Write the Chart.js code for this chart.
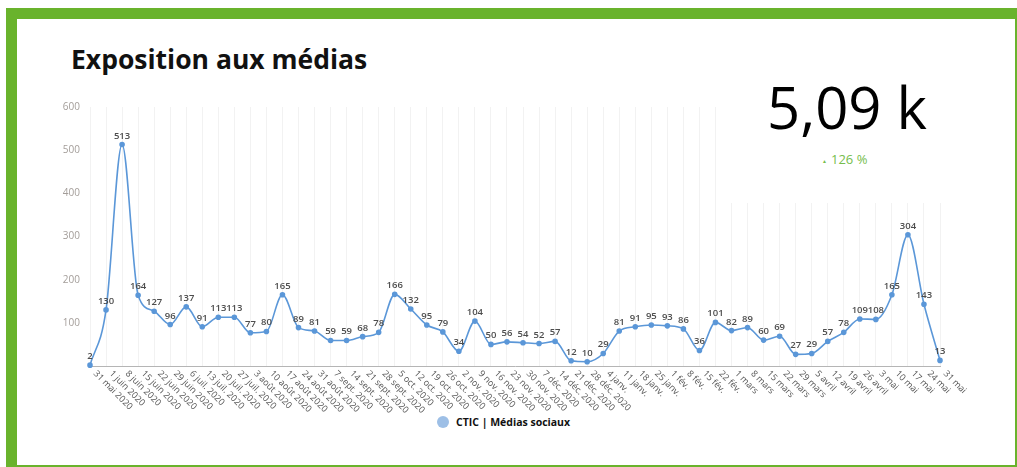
<!DOCTYPE html>
<html>
<head>
<meta charset="utf-8">
<script src="https://cdn.jsdelivr.net/npm/chart.js@4"></script>
<style>
  html, body { margin: 0; padding: 0; background: #fff; }
  body { width: 1017px; height: 467px; position: relative; overflow: hidden; font-family: "Open Sans", sans-serif; }
  #frame { position: absolute; left: 6px; top: 8px; width: 998px; height: 446px; border-left: 11px solid #69b32c; border-top: 11px solid #69b32c; border-right: 2px solid #69b32c; border-bottom: 2px solid #69b32c; }
  #title { position: absolute; left: 71px; top: 41px; font-size: 26.5px; font-weight: 700; color: #111; }
  #card { position: absolute; left: 731px; top: 60px; width: 270px; height: 143px; background: #fff; z-index: 2; }
  #kpi { position: absolute; left: 36px; top: 18px; font-size: 58px; color: #000; line-height: 1; }
  #delta { position: absolute; left: 91px; top: 90px; font-size: 13px; color: #76bd4c; }
  #delta span { font-size: 5px; vertical-align: middle; margin-right: 4px; }
  #legend { position: absolute; left: 437px; top: 415px; font-size: 10.5px; font-weight: 700; color: #111; display: flex; align-items: center; }
  #legend i { display: inline-block; width: 12px; height: 12px; border-radius: 6px; background: #9dbfe6; margin-right: 7px; }
  canvas { position: absolute; left: 0; top: 0; z-index: 1; }
</style>
</head>
<body>
<div id="frame"></div>
<div id="title">Exposition aux médias</div>
<div id="card">
  <div id="kpi">5,09 k</div>
  <div id="delta"><span>▲</span>126 %</div>
</div>
<div id="legend"><i></i>CTIC | Médias sociaux</div>
<canvas id="graphics" width="1017" height="467"></canvas>
<script>
const semaines = [
    '31 mai 2020', '1 juin 2020', '8 juin 2020', '15 juin 2020', '22 juin 2020', '29 juin 2020',
    '6 juil. 2020', '13 juil. 2020', '20 juil. 2020', '27 juil. 2020',
    '3 août 2020', '10 août 2020', '17 août 2020', '24 août 2020', '31 août 2020',
    '7 sept. 2020', '14 sept. 2020', '21 sept. 2020', '28 sept. 2020',
    '5 oct. 2020', '12 oct. 2020', '19 oct. 2020', '26 oct. 2020',
    '2 nov. 2020', '9 nov. 2020', '16 nov. 2020', '23 nov. 2020', '30 nov. 2020',
    '7 déc. 2020', '14 déc. 2020', '21 déc. 2020', '28 déc. 2020',
    '4 janv.', '11 janv.', '18 janv.', '25 janv.',
    '1 fév.', '8 fév.', '15 fév.', '22 fév.',
    '1 mars', '8 mars', '15 mars', '22 mars', '29 mars',
    '5 avril', '12 avril', '19 avril', '26 avril',
    '3 mai', '10 mai', '17 mai', '24 mai', '31 mai'
];
const mediasSociaux = [
    2, 130, 513, 164, 127, 96, 137, 91, 113, 113,
    77, 80, 165, 89, 81, 59, 59, 68, 78, 166,
    132, 95, 79, 34, 104, 50, 56, 54, 52, 57,
    12, 10, 29, 81, 91, 95, 93, 86, 36, 101,
    82, 89, 60, 69, 27, 29, 57, 78, 109, 108,
    165, 304, 143, 13
];
const yTicks = [100, 200, 300, 400, 500, 600];

// valeurs au-dessus des points + libellés de l'axe x en biais
const labelsPlugin = {
    id: 'labels',
    afterDatasetsDraw(chart) {
        const ctx = chart.ctx;
        const meta = chart.getDatasetMeta(0);
        ctx.save();
        ctx.font = '600 9.5px "Open Sans"';
        ctx.fillStyle = '#4d4d4d';
        ctx.textAlign = 'center';
        ctx.textBaseline = 'bottom';
        meta.data.forEach((pt, i) => {
            ctx.fillText(mediasSociaux[i], pt.x, pt.y - 4);
        });

        const xs = chart.scales.x;
        const bottom = chart.chartArea.bottom;
        ctx.font = '9px "Open Sans"';
        ctx.fillStyle = '#555';
        ctx.textAlign = 'left';
        ctx.textBaseline = 'top';
        semaines.forEach((lab, i) => {
            const x = xs.getPixelForValue(i);
            ctx.save();
            ctx.translate(x + 8, bottom + 3);
            ctx.rotate(Math.PI / 4);
            ctx.fillText(lab, 0, 0);
            ctx.restore();
        });
        ctx.restore();
    }
};

new Chart(document.getElementById('graphics'), {
    type: 'line',
    data: {
        labels: semaines,
        datasets: [{
            label: 'CTIC | Médias sociaux',
            data: mediasSociaux,
            borderColor: '#5b97d8',
            backgroundColor: '#5b97d8',
            borderWidth: 1.6,
            pointRadius: 2,
            pointHoverRadius: 2,
            cubicInterpolationMode: 'monotone',
            clip: false
        }]
    },
    options: {
        responsive: false,
        animation: false,
        layout: { padding: { left: 55, right: 77, top: 107, bottom: 51 } },
        plugins: { legend: { display: false }, tooltip: { enabled: false } },
        scales: {
            x: {
                offset: false,
                ticks: { display: false },
                grid: { color: '#f2f2f2', drawTicks: false },
                border: { display: true, color: '#b5b5b5', width: 1 },
                afterFit: s => { s.height = 50; }
            },
            y: {
                min: 0,
                max: 600,
                afterBuildTicks: s => { s.ticks = yTicks.map(v => ({ value: v })); },
                ticks: { color: '#a39d99', font: { family: 'Open Sans', size: 10 }, padding: 2 },
                grid: { display: false },
                border: { display: false },
                afterFit: s => { s.width = 35; }
            }
        }
    },
    plugins: [labelsPlugin]
});
</script>
</body>
</html>
